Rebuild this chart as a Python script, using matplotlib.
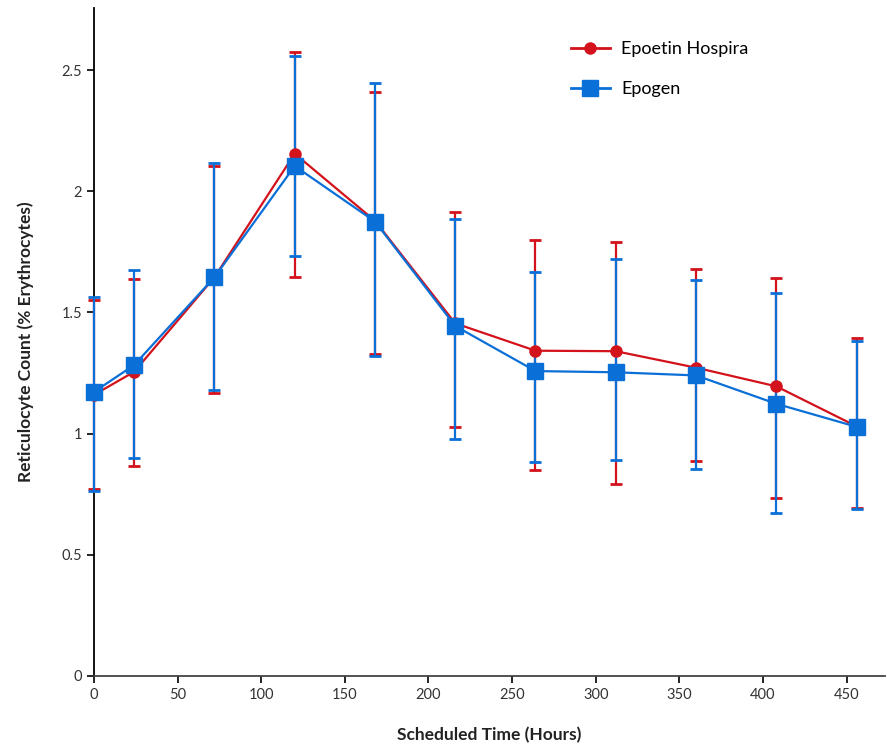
import matplotlib.pyplot as plt
from matplotlib.lines import Line2D
import numpy as np

hours = [0, 24, 72, 120, 168, 216, 264, 312, 360, 408, 456]

hospira = [1.16, 1.255, 1.645, 2.155, 1.878, 1.455, 1.342, 1.340, 1.272, 1.195, 1.030]
hospira_hi = [1.551, 1.639, 2.105, 2.576, 2.410, 1.913, 1.800, 1.792, 1.678, 1.642, 1.393]
hospira_lo = [0.771, 0.866, 1.169, 1.645, 1.330, 1.027, 0.851, 0.792, 0.886, 0.736, 0.695]

epogen = [1.172, 1.283, 1.645, 2.104, 1.875, 1.444, 1.258, 1.253, 1.240, 1.123, 1.028]
epogen_hi = [1.562, 1.674, 2.115, 2.557, 2.445, 1.885, 1.667, 1.719, 1.634, 1.579, 1.383]
epogen_lo = [0.763, 0.898, 1.179, 1.731, 1.321, 0.977, 0.882, 0.890, 0.855, 0.672, 0.690]

red = '#d3121c'
blue = '#0a6fd6'

plt.rcParams['font.family'] = ['Lato', 'DejaVu Sans']

fig = plt.figure(figsize=(8.88, 7.48), dpi=100)
ax = fig.add_axes([0.1059, 0.0963, 0.8907, 0.8930])

handles = []
for y, hi, lo, c, m, ms, lab in [
        (hospira, hospira_hi, hospira_lo, red, 'o', 8, 'Epoetin Hospira'),
        (epogen, epogen_hi, epogen_lo, blue, 's', 11, 'Epogen')]:
    y = np.array(y)
    err = [y - np.array(lo), np.array(hi) - y]
    ax.errorbar(hours, y, yerr=err, color=c, lw=1.6, marker=m, ms=ms,
                capsize=4.5, capthick=2, elinewidth=1.6,
                clip_on=False, zorder=3)
    handles.append(Line2D([], [], color=c, lw=2, marker=m, ms=ms, label=lab))

ax.set_xlim(0, 473)
ax.set_ylim(0, 2.756)
ax.set_xticks(np.arange(0, 451, 50))
ax.set_yticks([0, 0.5, 1, 1.5, 2, 2.5])
ax.set_yticklabels(['0', '0.5', '1', '1.5', '2', '2.5'])
ax.tick_params(labelsize=10.5, labelcolor='#333333', length=5, width=1.2,
               direction='out')
for s in ['top', 'right']:
    ax.spines[s].set_visible(False)
ax.spines['left'].set_linewidth(1.3)
ax.spines['bottom'].set_linewidth(1.3)
ax.spines['bottom'].set_color('#444444')

ax.set_xlabel('Scheduled Time (Hours)', fontsize=12.5, fontweight='bold',
              color='#222222', labelpad=18)
ax.set_ylabel('Reticulocyte Count (% Erythrocytes)', fontsize=12.5,
              fontweight='bold', color='#222222', labelpad=20)

ax.legend(handles=handles, loc='upper left', bbox_to_anchor=(0.582, 0.975),
          frameon=False, fontsize=13, handlelength=2.2, labelspacing=1.35,
          handletextpad=0.6)

fig.savefig('out.png', dpi=100)
